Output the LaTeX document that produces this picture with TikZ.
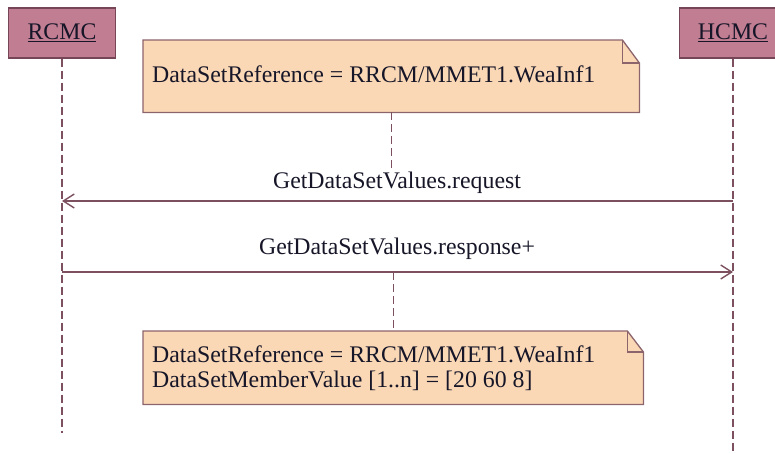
\documentclass[tikz,border=0pt]{standalone}
\usepackage{fontspec}
\setmainfont{Liberation Serif}
\usetikzlibrary{arrows.meta}
\definecolor{actorfill}{RGB}{193,125,145}
\definecolor{actordraw}{RGB}{118,70,88}
\definecolor{notefill}{RGB}{250,216,182}
\definecolor{notedraw}{RGB}{140,100,108}
\definecolor{msgline}{RGB}{125,80,96}
\definecolor{textc}{RGB}{22,22,40}

\begin{document}
\begin{tikzpicture}[x=1pt,y=-1pt,
  txt/.style={font=\fontsize{23.8}{25}\selectfont, text=textc, inner sep=0pt},
  actor/.style={draw=actordraw, fill=actorfill, line width=1.3pt,
    minimum width=107pt, minimum height=50pt, inner sep=0pt,
    font=\fontsize{23.8}{25}\selectfont, text=textc},
  lifeline/.style={draw=msgline, line width=1.4pt, dash pattern=on 8pt off 4pt},
  notelink/.style={draw=msgline, line width=1.4pt, dash pattern=on 8pt off 4pt},
  msg/.style={draw=msgline, line width=1.4pt,
    -{Straight Barb[length=11pt,width=14pt,line width=1.4pt]}},
  notebox/.style={inner sep=0pt, anchor=north west},
  noteshape/.style={draw=notedraw, fill=notefill, line width=1.3pt, line join=miter},
  notefold/.style={draw=notedraw, line width=1.3pt}
]
\useasboundingbox (0,0) rectangle (775,453);
\clip (0,0) rectangle (775,453);

% participants
\node[actor] (rcmc) at (62,33) {\underline{RCMC}};
\node[actor] (hcmc) at (733,33) {\underline{HCMC}};

% lifelines
\coordinate (rcmcEnd) at (62,433);
\coordinate (hcmcEnd) at (733,453);
\draw[lifeline] (rcmc.south) -- (rcmcEnd);
\draw[lifeline] (hcmc.south) -- (hcmcEnd);

% first note
\node[notebox, minimum width=496pt, minimum height=72pt] (noteA) at (143,40) {};
\path[noteshape] (noteA.north west) -- ([xshift=-17pt]noteA.north east)
  -- ([yshift=-23pt]noteA.north east) -- (noteA.south east)
  -- (noteA.south west) -- cycle;
\draw[notefold] ([xshift=-17pt]noteA.north east) -- ++(0,23) -- ++(17,0);
\node[txt, anchor=base west] (noteAtext) at (152,82)
  {DataSetReference = RRCM/MMET1.WeaInf1};

% messages
\coordinate (reqFrom) at (733,201);
\coordinate (reqTo) at (62,201);
\coordinate (respFrom) at (62,272);
\coordinate (respTo) at (733,272);
\draw[msg] (reqFrom) -- (reqTo);
\draw[msg] (respFrom) -- (respTo);
\node[txt, anchor=base] (reqLabel) at (397,188) {GetDataSetValues.request};
\node[txt, anchor=base] (respLabel) at (397,254) {GetDataSetValues.response+};

% second note
\node[notebox, minimum width=500pt, minimum height=73pt] (noteB) at (143,331) {};
\path[noteshape] (noteB.north west) -- ([xshift=-16pt]noteB.north east)
  -- ([yshift=-21pt]noteB.north east) -- (noteB.south east)
  -- (noteB.south west) -- cycle;
\draw[notefold] ([xshift=-16pt]noteB.north east) -- ++(0,21) -- ++(16,0);
\node[txt, anchor=base west, align=left] (noteBtext) at (152,387)
  {DataSetReference = RRCM/MMET1.WeaInf1\\DataSetMemberValue [1..n] = [20 60 8]};

% note anchors
\coordinate (respMid) at (noteB.north |- respFrom);
\draw[notelink] (noteA.south) -- (noteA.south |- reqLabel.north);
\draw[notelink] (respMid) -- (noteB.north);
\end{tikzpicture}
\end{document}
